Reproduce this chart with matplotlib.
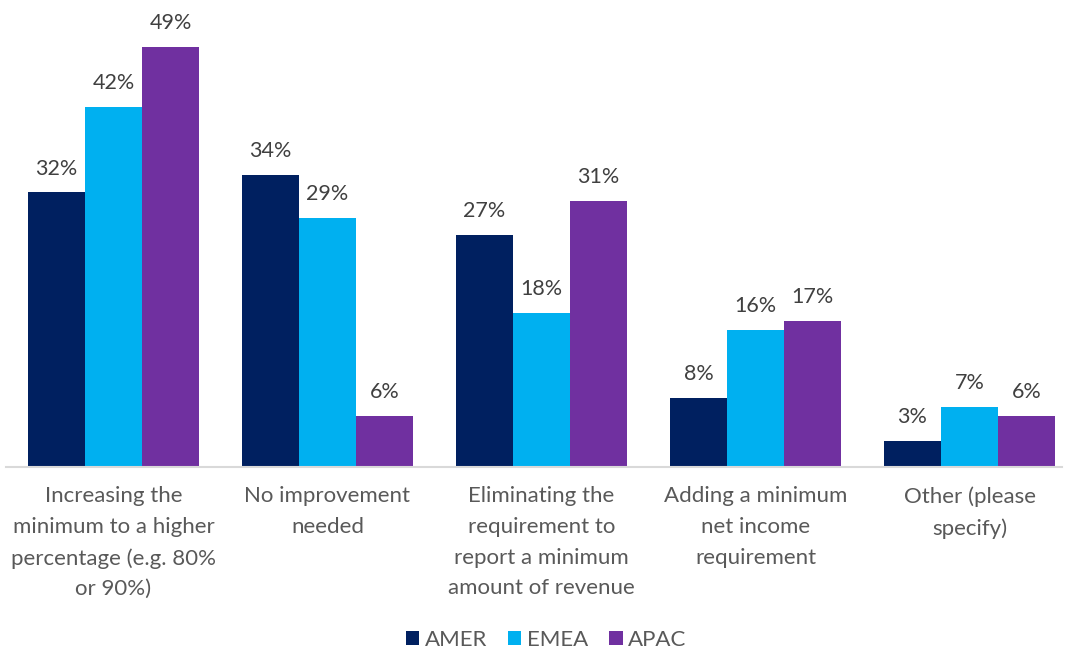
import matplotlib
matplotlib.use("Agg")
import matplotlib.pyplot as plt
import numpy as np

plt.rcParams['font.family'] = ['Lato', 'DejaVu Sans']

categories = [
    "Increasing the\nminimum to a higher\npercentage (e.g. 80%\nor 90%)",
    "No improvement\nneeded",
    "Eliminating the\nrequirement to\nreport a minimum\namount of revenue",
    "Adding a minimum\nnet income\nrequirement",
    "Other (please\nspecify)",
]
regions = ["AMER", "EMEA", "APAC"]
amer = [32, 34, 27, 8, 3]
emea = [42, 29, 18, 16, 7]
apac = [49, 6, 31, 17, 6]
colors = ["#002060", "#00B0F0", "#7030A0"]

W, H = 1065, 654
fig = plt.figure(figsize=(W / 100, H / 100), dpi=100)
# axes box in pixels: left 6, right 1062, top 0, baseline 467
ax = fig.add_axes([6 / W, 1 - 467 / H, (1062 - 6) / W, 467 / H])

x = np.arange(len(categories))
bw = 0.2664
px_per_unit = 214.0
ax.set_xlim(-(113.5 - 6) / px_per_unit, (1062 - 113.5) / px_per_unit)
ax.set_ylim(0, 467 / 8.58)

for k, (name, vals, col) in enumerate(zip(regions, [amer, emea, apac], colors)):
    bars = ax.bar(x + (k - 1) * bw, vals, bw, color=col, label=name)
    for b, v in zip(bars, vals):
        ax.annotate(f"{v}%", (b.get_x() + b.get_width() / 2, v),
                    xytext=(0, 10), textcoords="offset points",
                    ha="center", va="bottom", fontsize=15.5, color="#404040")

for s in ["top", "left", "right"]:
    ax.spines[s].set_visible(False)
ax.spines["bottom"].set_color("#D9D9D9")
ax.spines["bottom"].set_linewidth(1.5)
ax.set_yticks([])
ax.set_xticks(x)
ax.set_xticklabels(categories, fontsize=16, color="#595959", linespacing=1.66)
ax.tick_params(axis="x", length=0, pad=14)

leg = fig.legend(loc="center", bbox_to_anchor=(546 / W, 1 - 640 / H), ncol=3,
                 frameon=False, fontsize=16, handlelength=0.6, handleheight=0.6,
                 handletextpad=0.25, columnspacing=0.95)
for t in leg.get_texts():
    t.set_color("#595959")

fig.savefig("out.png", dpi=100)
